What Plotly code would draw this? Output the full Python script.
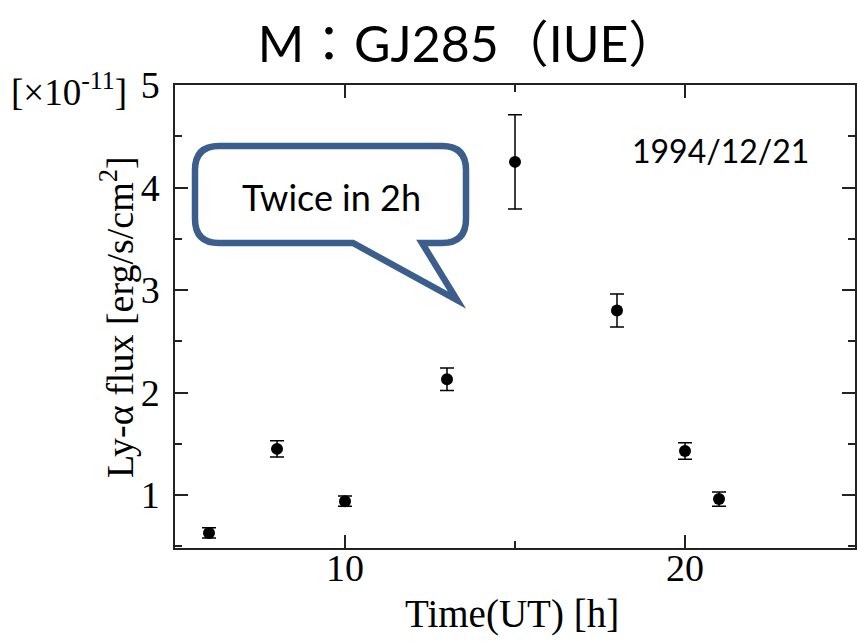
import plotly.graph_objects as go

# Ly-alpha flux of GJ285 (IUE), 1994/12/21
time_ut = [6, 8, 10, 13, 15, 18, 20, 21]
flux = [0.63, 1.45, 0.94, 2.13, 4.25, 2.80, 1.43, 0.96]
flux_err = [0.05, 0.08, 0.05, 0.11, 0.46, 0.16, 0.08, 0.07]

W, H = 857, 642
ML, MR, MT, MB = 175, 2, 85, 94
PW, PH = W - ML - MR, H - MT - MB

SERIF = "Liberation Serif, Times New Roman, serif"
SANS = "Lato, Noto Sans CJK JP, sans-serif"


def paper(px, py):
    """pixel position on the page -> paper coordinates"""
    return (px - ML) / PW, (H - MB - py) / PH


def pt(px, py):
    x, y = paper(px, py)
    return f"{x:.5f},{y:.5f}"


fig = go.Figure()
fig.add_trace(go.Scatter(
    x=time_ut, y=flux, mode="markers",
    marker=dict(color="black", size=12, symbol="circle"),
    error_y=dict(type="data", array=flux_err, visible=True,
                 color="black", thickness=1.5, width=7),
    showlegend=False,
))

# speech-bubble callout
L, T, R, B, r = 195, 146, 466, 243, 24
bubble = (
    f"M {pt(L + r, T)} L {pt(R - r, T)} Q {pt(R, T)} {pt(R, T + r)} "
    f"L {pt(R, B - r)} Q {pt(R, B)} {pt(R - r, B)} "
    f"L {pt(422, B)} L {pt(457, 300)} L {pt(353, B)} "
    f"L {pt(L + r, B)} Q {pt(L, B)} {pt(L, B - r)} "
    f"L {pt(L, T + r)} Q {pt(L, T)} {pt(L + r, T)} Z"
)
fig.add_shape(type="path", xref="paper", yref="paper", path=bubble,
              line=dict(color="#3B5E8C", width=6.5), fillcolor="white",
              layer="above")

annots = [
    dict(text="Twice in 2h", pos=(331, 197), font=dict(family=SANS, size=36)),
    dict(text="1994/12/21", pos=(720, 150), font=dict(family=SANS, size=32)),
    dict(text="[×10<sup>-11</sup>]", pos=(69, 89), font=dict(family=SERIF, size=37)),
    dict(text="Time(UT) [h]", pos=(512, 614), font=dict(family=SERIF, size=39)),
]
for a in annots:
    x, y = paper(*a["pos"])
    fig.add_annotation(text=a["text"], x=x, y=y, xref="paper", yref="paper",
                       showarrow=False, xanchor="center", yanchor="middle",
                       font=dict(color="black", **a["font"]))

x, y = paper(117, 317)
fig.add_annotation(text="Ly-α flux [erg/s/cm<sup>2</sup>]", x=x, y=y,
                   xref="paper", yref="paper", showarrow=False, textangle=-90,
                   xanchor="center", yanchor="middle",
                   font=dict(family=SERIF, size=38, color="black"))

axis_common = dict(
    showline=True, linecolor="#222", linewidth=1.5, mirror="ticks",
    ticks="inside", ticklen=13, tickwidth=1.5, tickcolor="#222",
    showgrid=False, zeroline=False,
    tickfont=dict(family=SERIF, size=38, color="black"),
)

fig.update_xaxes(range=[5, 25], tick0=0, dtick=10,
                 minor=dict(ticks="inside", ticklen=7, tickwidth=1.5,
                            tickcolor="#222", dtick=5, tick0=0, showgrid=False),
                 ticklabelstandoff=-14, **axis_common)
fig.update_yaxes(range=[5 - PH / 102.5, 5], tick0=0, dtick=1,
                 minor=dict(ticks="inside", ticklen=7, tickwidth=1.5,
                            tickcolor="#222", dtick=0.5, tick0=0, showgrid=False),
                 ticklabelstandoff=6, **axis_common)

fig.update_layout(
    width=W, height=H,
    margin=dict(l=ML, r=MR, t=MT, b=MB, autoexpand=False),
    paper_bgcolor="white", plot_bgcolor="white",
    title=dict(text="M：GJ285（IUE）", xref="container", yref="container",
               x=468 / W, y=1 - 44 / H, xanchor="center", yanchor="middle",
               font=dict(family=SANS, size=50, color="black")),
)

fig.write_html("out.html")
